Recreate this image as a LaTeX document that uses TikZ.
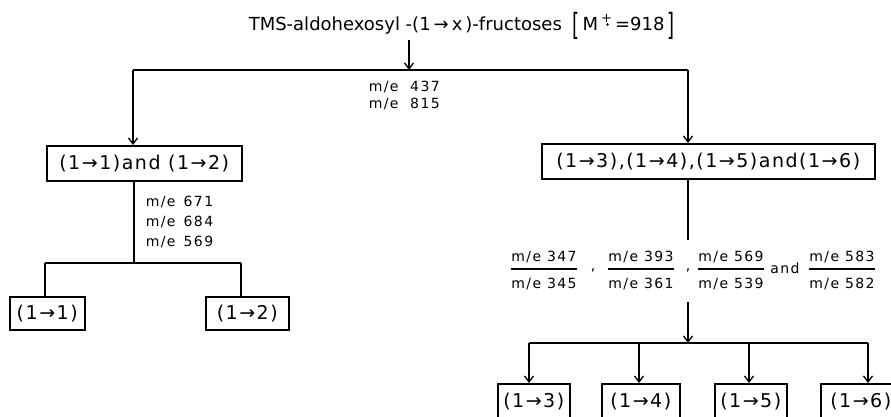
\documentclass[tikz,border=0pt]{standalone}
\usepackage{fontspec}
\setmainfont{DejaVu Sans}[LetterSpace=8]
\newfontfamily\labfont{DejaVu Sans}[LetterSpace=10]
\newfontfamily\titlefont{DejaVu Sans}
\usetikzlibrary{arrows.meta}
\newcommand{\ar}{→}
\begin{document}
\begin{tikzpicture}[x=1pt,y=-1pt,line width=1.5pt,
  arr/.style={-{Straight Barb[length=6pt,width=9pt,line width=1.3pt]}},
  box/.style={draw,inner sep=0pt,anchor=north west,font=\fontsize{19}{21}\selectfont},
  lab/.style={anchor=west,inner sep=0pt,font=\labfont\fontsize{14}{16}\selectfont},
  fr/.style={inner sep=0pt,font=\labfont\fontsize{14}{16}\selectfont}]
\clip (0,0) rectangle (891,416);
\useasboundingbox (0,0) rectangle (891,416);
% title
\node[anchor=west,inner sep=0pt,font=\titlefont\fontsize{18}{20}\selectfont] (title) at (248,26)
  {TMS-aldohexosyl -(1\,\ar\,x\,)-fructoses\hspace{0.6em}\raisebox{-0.3em}{\scalebox{1}[1.7]{[}}\,M\,\raisebox{0.45em}{\fontsize{13}{13}\selectfont +}\,=918\,\raisebox{-0.3em}{\scalebox{1}[1.7]{]}}};
\coordinate (dotpos) at (607.5,24.5);
\fill (dotpos) circle (1.3pt);
% boxes
\node[box,minimum width=195pt,minimum height=35pt] (b12) at (46,145) {(1\ar1)and (1\ar2)};
\node[box,minimum width=333pt,minimum height=35pt] (b36) at (541,143) {(1\ar3),(1\ar4),(1\ar5)and(1\ar6)};
\node[box,minimum width=75pt,minimum height=33pt] (b1) at (9,296) {(1\ar1)};
\node[box,minimum width=83pt,minimum height=33pt] (b2) at (205,296) {(1\ar2)};
\node[box,minimum width=72pt,minimum height=35pt] (b3) at (497,383) {(1\ar3)};
\node[box,minimum width=78pt,minimum height=35pt] (b4) at (601,383) {(1\ar4)};
\node[box,minimum width=72pt,minimum height=35pt] (b5) at (714,383) {(1\ar5)};
\node[box,minimum width=80pt,minimum height=35pt] (b6) at (820,383) {(1\ar6)};
% top connectors
\coordinate (jt) at (409,70);
\coordinate (cl) at (133,70);
\coordinate (cr) at (688,70);
\draw[arr] (title.south -| jt) -- (jt);
\draw (cl) -- (cr);
\draw[arr] (cl) -- (cl |- b12.north);
\draw[arr] (cr) -- (cr |- b36.north);
\node[lab] (l1) at (368,87) {m/e\ \ 437};
\node[lab] (l2) at (368,104) {m/e\ \ 815};
% left lower
\coordinate (ll) at (134,263);
\coordinate (la) at (45,263);
\coordinate (lb) at (241,263);
\draw (ll |- b12.south) -- (ll);
\draw (la) -- (lb);
\draw (la) -- (la |- b1.north);
\draw (lb) -- (lb |- b2.north);
\node[lab] (l3) at (145,202) {m/e\ \,671};
\node[lab] (l4) at (145,222) {m/e\ \,684};
\node[lab] (l5) at (145,242) {m/e\ \,569};
% right lower
\coordinate (r1) at (688,240);
\coordinate (r2) at (688,302);
\coordinate (jb) at (688,343);
\draw (r1 |- b36.south) -- (r1);
\draw[arr] (r2) -- (jb);
\coordinate (c3) at (529,343);
\coordinate (c4) at (639,343);
\coordinate (c5) at (749,343);
\coordinate (c6) at (868,343);
\draw (c3) -- (c6);
\draw[arr] (c3) -- (c3 |- b3.north);
\draw[arr] (c4) -- (c4 |- b4.north);
\draw[arr] (c5) -- (c5 |- b5.north);
\draw[arr] (c6) -- (c6 |- b6.north);
% fractions
\node[fr] (n1) at (544,257) {m/e 347};
\node[fr] (d1) at (544,284) {m/e 345};
\node[fr] (n2) at (641,257) {m/e 393};
\node[fr] (d2) at (641,284) {m/e 361};
\node[fr] (n3) at (731,257) {m/e 569};
\node[fr] (d3) at (731,284) {m/e 539};
\node[fr] (n4) at (842,257) {m/e 583};
\node[fr] (d4) at (842,284) {m/e 582};
\foreach \i in {1,2,3,4}{\draw[line width=1.3pt] (n\i.west |- 0,269) -- (n\i.east |- 0,269);}
\node[fr] (k1) at (593,270) {,};
\node[fr] (k2) at (688,270) {,};
\node[fr] (and) at (785,268) {and};
\end{tikzpicture}
\end{document}
